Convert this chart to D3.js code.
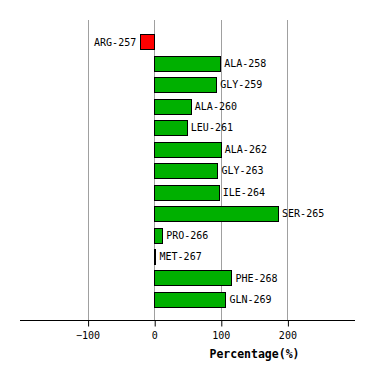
<!DOCTYPE html>
<html>
<head>
<meta charset="utf-8">
<script src="https://cdn.jsdelivr.net/npm/d3@7"></script>
<style>
  body { margin: 0; background: #fff; }
  text { font-family: "DejaVu Sans Mono", monospace; }
</style>
</head>
<body>
<script>
// residues and their percentages
var residues = ['ARG-257', 'ALA-258', 'GLY-259', 'ALA-260', 'LEU-261', 'ALA-262', 'GLY-263',
                'ILE-264', 'SER-265', 'PRO-266', 'MET-267', 'PHE-268', 'GLN-269'];
var percents = [-21, 99, 93, 55, 49, 100, 95, 97, 186, 12, 2, 116, 107];
var tickValues = [-100, 0, 100, 200];

var w = 374, h = 380;

var svg = d3.select('body').append('svg')
    .attr('width', w)
    .attr('height', h);

var x = d3.scaleLinear()
    .domain([-200, 300])
    .range([21, 354]);

var y = d3.scaleBand()
    .domain(residues)
    .range([31.3, 310.4])
    .paddingInner(0.28)
    .paddingOuter(0.14);

var axisY = 320.5;

// grid lines
svg.selectAll('line.grid')
    .data(tickValues)
    .enter()
    .append('line')
    .attr('class', 'grid')
    .attr('x1', function(d) { return Math.round(x(d)) + 0.5; })
    .attr('x2', function(d) { return Math.round(x(d)) + 0.5; })
    .attr('y1', 20)
    .attr('y2', axisY)
    .style('stroke', '#a0a0a0')
    .style('stroke-width', 1);

// bars
var data = residues.map(function(r, i) { return { name: r, value: percents[i] }; });

var bars = svg.selectAll('g.bar')
    .data(data)
    .enter()
    .append('g')
    .attr('class', 'bar');

bars.append('rect')
    .attr('x', function(d) { return Math.round(x(Math.min(0, d.value))) + 0.5; })
    .attr('y', function(d) { return Math.round(y(d.name)) + 0.5; })
    .attr('width', function(d) { return Math.max(0.5, Math.round(Math.abs(x(d.value) - x(0)))); })
    .attr('height', Math.round(y.bandwidth()))
    .style('fill', function(d) { return d.value < 0 ? '#ff0000' : '#00b000'; })
    .style('stroke', '#000')
    .style('stroke-width', 1);

bars.append('text')
    .text(function(d) { return d.name; })
    .attr('x', function(d) { return d.value < 0 ? x(d.value) - 4 : x(d.value) + 4; })
    .attr('y', function(d) { return y(d.name) + y.bandwidth() / 2; })
    .attr('dy', '0.35em')
    .attr('text-anchor', function(d) { return d.value < 0 ? 'end' : 'start'; })
    .attr('font-size', '10px')
    .attr('fill', '#000');

// x axis
var xAxis = d3.axisBottom(x)
    .tickValues(tickValues)
    .tickSize(6)
    .tickPadding(5);

var axisG = svg.append('g')
    .attr('transform', 'translate(0,' + axisY + ')')
    .call(xAxis);

axisG.select('.domain').remove();
axisG.append('line')
    .attr('x1', 20)
    .attr('x2', 355)
    .style('stroke', '#000')
    .style('stroke-width', 1);
axisG.selectAll('.tick line')
    .attr('transform', function() { return 'translate(0.5,0)'; })
    .style('stroke', '#000');
axisG.selectAll('.tick text')
    .attr('font-family', '"DejaVu Sans Mono", monospace')
    .attr('font-size', '10px')
    .attr('fill', '#000');

// axis title
svg.append('text')
    .text('Percentage(%)')
    .attr('x', 254.5)
    .attr('y', 358)
    .attr('text-anchor', 'middle')
    .attr('font-size', '11.5px')
    .attr('font-weight', 'bold')
    .attr('fill', '#000');
</script>
</body>
</html>
